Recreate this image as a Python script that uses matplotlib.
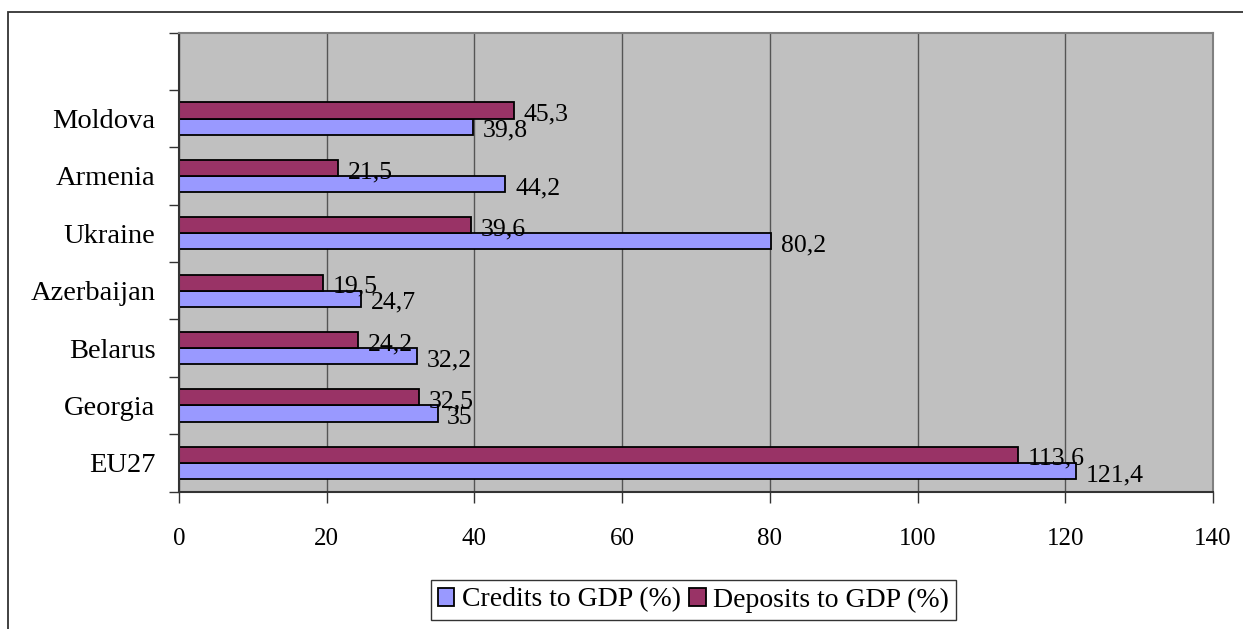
import matplotlib
matplotlib.use("Agg")
import matplotlib.pyplot as plt
from matplotlib.patches import Rectangle
from matplotlib.ticker import FixedLocator
import numpy as np

# Countries listed bottom to top; the top slot of the axis is left empty
countries = ["EU27", "Georgia", "Belarus", "Azerbaijan", "Ukraine", "Armenia", "Moldova"]
credits_gdp = [121.4, 35, 32.2, 24.7, 80.2, 44.2, 39.8]
deposits_gdp = [113.6, 32.5, 24.2, 19.5, 39.6, 21.5, 45.3]
credit_labels = ["121,4", "35", "32,2", "24,7", "80,2", "44,2", "39,8"]
deposit_labels = ["113,6", "32,5", "24,2", "19,5", "39,6", "21,5", "45,3"]
x_ticks = [0, 20, 40, 60, 80, 100, 120, 140]

plt.rcParams["font.family"] = ["Liberation Serif", "DejaVu Serif"]
FS_CAT = 20.5
FS_LAB = 18.5
FS_X = 18
FS_LEG = 20

W, H = 1243, 629
fig = plt.figure(figsize=(W / 100, H / 100), dpi=100)
fig.patch.set_facecolor("white")

# Outer chart frame (runs off the right and bottom edges)
fig.add_artist(Rectangle((8 / W, -0.2), 1.2, 1.2 - 12 / H,
                         transform=fig.transFigure, fill=False,
                         edgecolor="#333333", linewidth=1.3))

left, right = 179 / W, 1213 / W
bottom, top = 1 - 491.5 / H, 1 - 32.5 / H
ax = fig.add_axes([left, bottom, right - left, top - bottom])
ax.set_facecolor("#C0C0C0")

n_slots = len(countries) + 1
y = np.arange(len(countries))
h = 0.28

ax.set_axisbelow(True)
ax.xaxis.grid(True, color="#555555", linewidth=1.0)

cred = ax.barh(y - h / 2, credits_gdp, height=h, color="#9999FF",
               edgecolor="black", linewidth=1.3, label="Credits to GDP (%)")
dep = ax.barh(y + h / 2, deposits_gdp, height=h, color="#993366",
              edgecolor="black", linewidth=1.3, label="Deposits to GDP (%)")

for bars, labels in ((cred, credit_labels), (dep, deposit_labels)):
    for b, lab in zip(bars, labels):
        ax.annotate(lab, (b.get_width(), b.get_y() + b.get_height() / 2),
                    xytext=(7, -3), textcoords="offset points",
                    ha="left", va="center", fontsize=FS_LAB, color="black")

ax.set_xlim(0, 140)
ax.set_ylim(-0.5, n_slots - 0.5)
ax.xaxis.set_major_locator(FixedLocator(x_ticks))
ax.set_xticklabels([str(v) for v in x_ticks])

ax.set_yticks(y)
ax.set_yticklabels(countries)
ax.yaxis.set_minor_locator(FixedLocator(np.arange(-0.5, n_slots, 1.0)))
ax.tick_params(axis="y", which="major", length=0, pad=17, labelsize=FS_CAT)
ax.tick_params(axis="y", which="minor", length=7, width=1.0, color="#333333",
               direction="out")
ax.tick_params(axis="x", which="major", length=8, width=1.0, color="#333333",
               direction="out", pad=18, labelsize=FS_X)

for side in ("left", "bottom"):
    ax.spines[side].set_color("#333333")
    ax.spines[side].set_linewidth(1.5)
for side in ("top", "right"):
    ax.spines[side].set_color("#808080")
    ax.spines[side].set_linewidth(1.5)

leg = fig.legend(handles=[cred, dep], loc="center",
                 bbox_to_anchor=(693.5 / W, 1 - 600 / H),
                 bbox_transform=fig.transFigure, ncol=2, fontsize=FS_LEG,
                 frameon=True, fancybox=False, edgecolor="black",
                 handlelength=0.6, handleheight=0.6, handletextpad=0.27,
                 columnspacing=0.3, borderpad=0.25, borderaxespad=0)
leg.get_frame().set_linewidth(1.0)

fig.savefig("out.png", dpi=100, facecolor="white")
